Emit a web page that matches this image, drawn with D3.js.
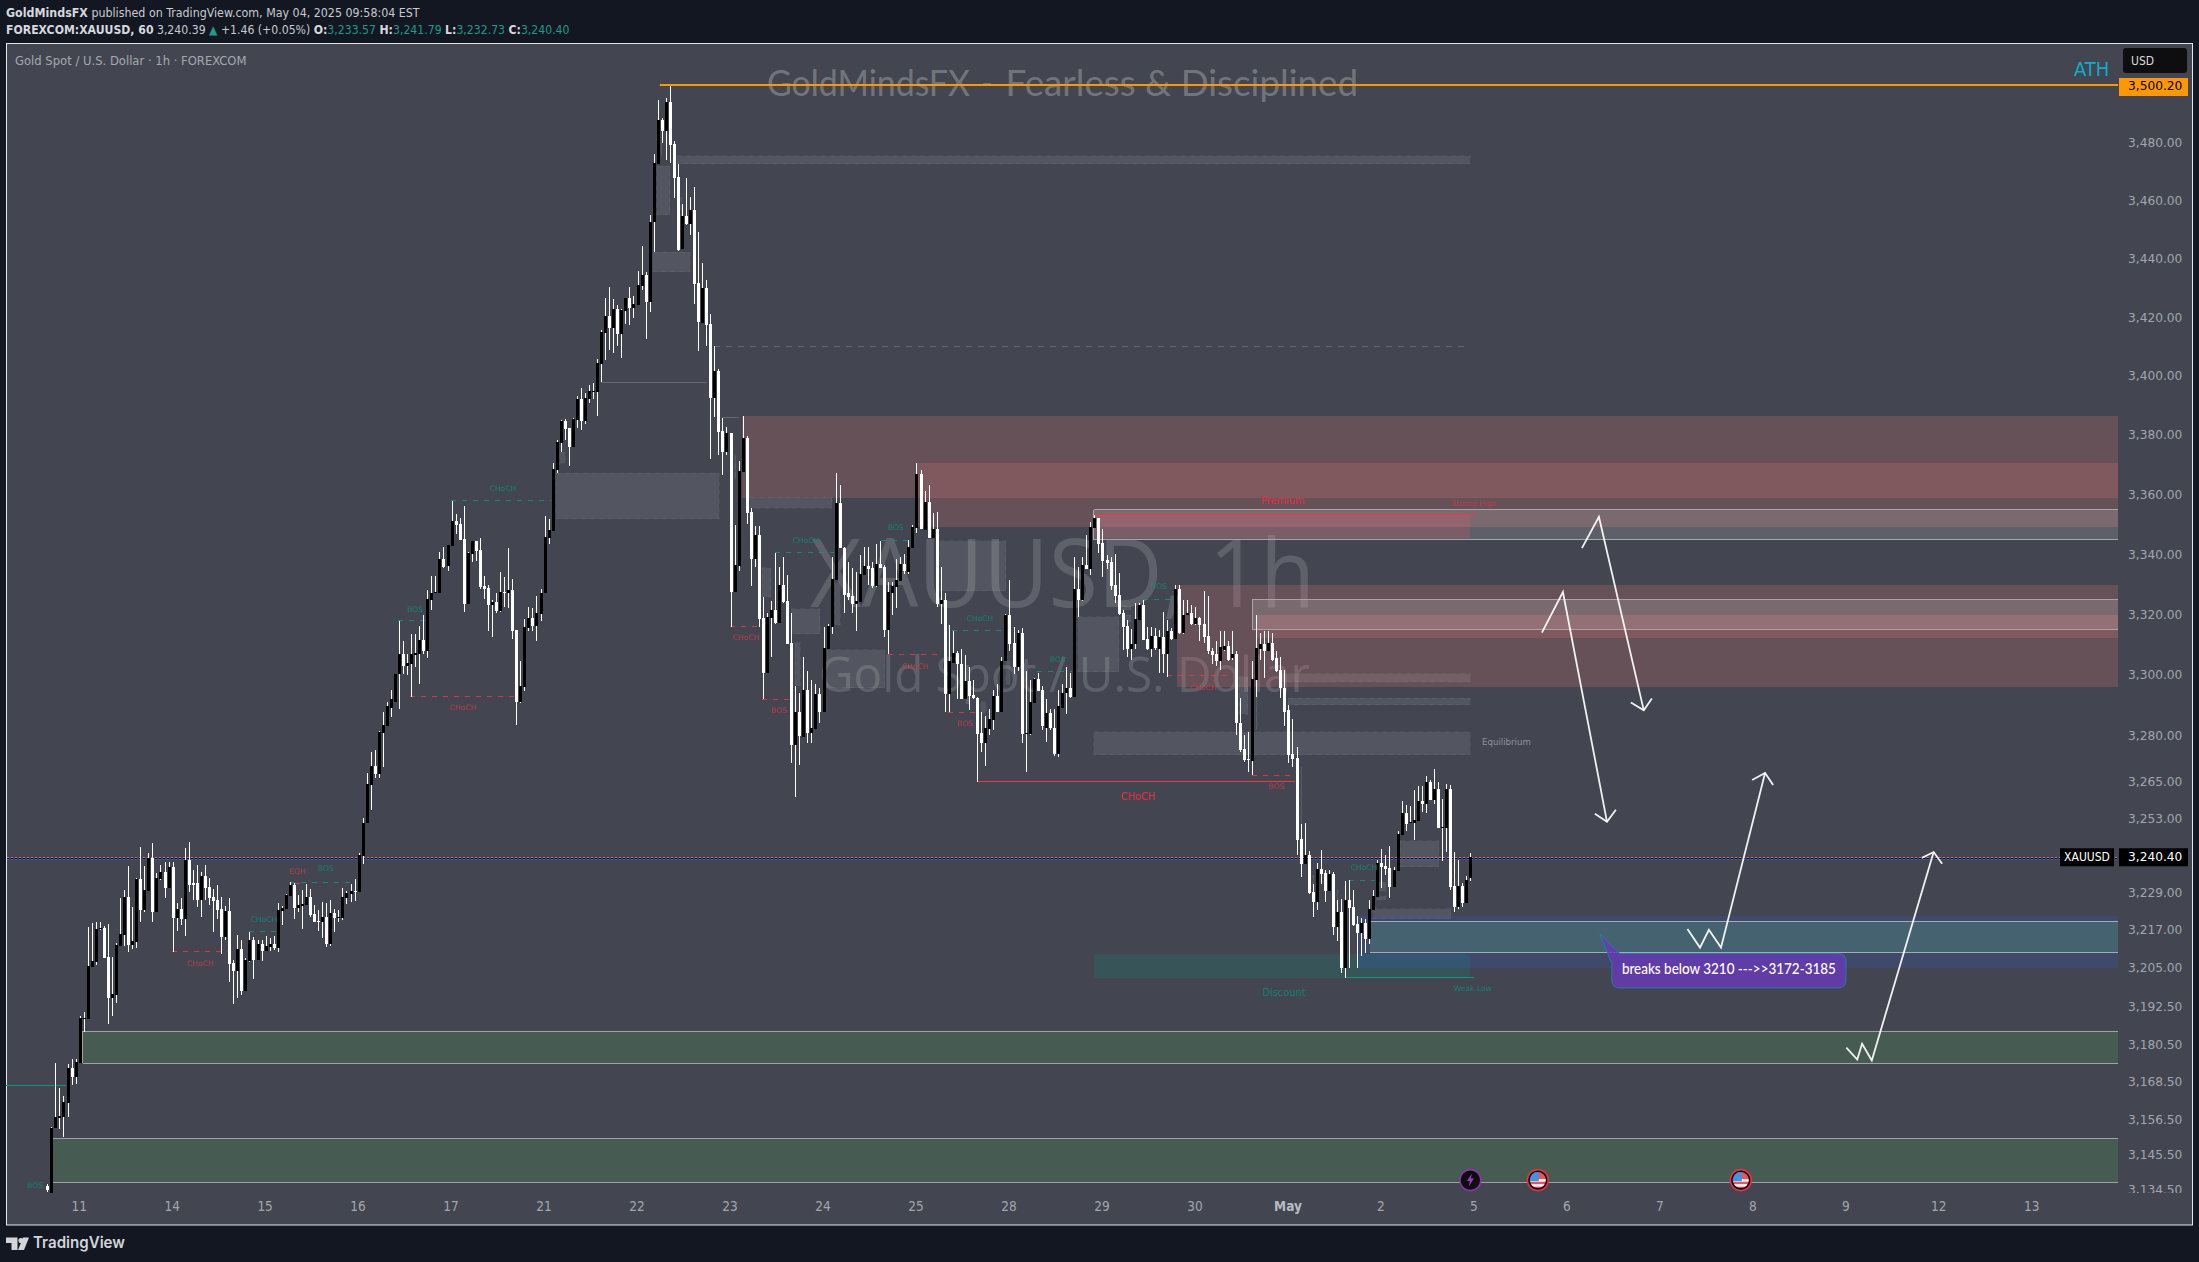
<!DOCTYPE html>
<html><head><meta charset="utf-8"><title>XAUUSD 1h</title>
<script src="https://cdn.jsdelivr.net/npm/d3@7"></script>
<style>html,body{margin:0;padding:0;background:#121722;overflow:hidden}svg{display:block}</style>
</head><body><svg id="c" width="2199" height="1262"></svg>
<script>
// [open, high, low, close] per hourly bar
const candles=[
[3135.7,3136.3,3133.8,3134.5],[3133.6,3154.3,3133.6,3154],[3154,3174.6,3154,3157.5],[3157.2,3166.6,3153.7,3157.8],[3157.5,3164.2,3151,3162.3],
[3162,3174.3,3157.5,3172.8],[3172.8,3175.9,3167.6,3170],[3170,3175.9,3168,3174.9],[3174.6,3189.6,3174.6,3188.7],[3188.4,3190.6,3184.5,3188.7],
[3188.4,3218,3188.4,3205.5],[3205.2,3219.2,3205.2,3207],[3206.7,3219.6,3205.8,3217.3],[3217.3,3219.6,3217,3217.6],[3217.6,3218.3,3208,3208],
[3208.3,3218.9,3186.8,3195.2],[3195.2,3208.3,3189.6,3196.5],[3196.2,3212.8,3193.6,3212.2],[3211.9,3227.2,3211.9,3215.7],[3215.4,3229.8,3211.9,3227.5],
[3227.5,3237.6,3209.9,3212.2],[3212.2,3224.4,3210.9,3213.5],[3213.1,3233.7,3211.3,3233.3],[3233.3,3243.7,3219.6,3223.5],[3223.5,3237.6,3222.8,3229.8],
[3229.5,3241.8,3229.5,3240.2],[3240.2,3245,3219.6,3222.8],[3222.8,3235.3,3222.8,3233.7],[3233.3,3237.9,3233,3235.6],[3235.6,3238.9,3227.2,3230.5],
[3230.5,3238.9,3230.5,3237.3],[3237.3,3238.9,3209.9,3220.9],[3220.9,3225.6,3216.7,3223.8],[3223.8,3227.2,3218.6,3220.6],[3220.6,3243.4,3215,3239.5],
[3239.5,3245.4,3229.2,3231.4],[3232,3236.3,3226.7,3231.4],[3232,3237.9,3224.4,3226.7],[3226.7,3235.6,3221.2,3234.3],[3234.3,3237.9,3226.7,3230.5],
[3230.8,3233.7,3225,3227.2],[3227.5,3230.2,3216.4,3226.3],[3226.7,3231.4,3220.6,3223.5],[3223.8,3227.5,3209.2,3214.7],[3214.7,3224.7,3213.8,3223.1],
[3223.1,3227.2,3200.3,3206.1],[3206.4,3207.4,3193.3,3203.8],[3203.8,3215.4,3195.2,3210.9],[3210.9,3213.8,3196.2,3197.4],[3197.4,3208,3197.4,3207.4],
[3207,3216.4,3206.7,3213.8],[3213.8,3214.7,3201.3,3207.4],[3207.4,3213.8,3207.4,3212.5],[3212.5,3213.8,3207,3210.3],[3210.3,3215,3210.3,3211.9],
[3211.6,3214.4,3210.3,3212.5],[3212.5,3215,3210.6,3211.3],[3211.3,3225.6,3209.9,3223.5],[3223.1,3224.7,3218.6,3224.1],[3223.8,3228.5,3223.8,3228.2],
[3227.9,3232.4,3227.9,3231.4],[3231.4,3232,3220.6,3224.1],[3224.1,3228.2,3222.8,3225],[3224.7,3229.8,3217.3,3225.3],[3225,3231.7,3225,3227.5],
[3227.5,3230.2,3221.2,3221.8],[3222.1,3225,3219.6,3219.6],[3219.9,3223.5,3216.7,3219.6],[3219.6,3225.9,3214.4,3221.2],[3221.2,3225.6,3211.6,3212.5],
[3212.5,3226.7,3211.9,3222.5],[3222.5,3223.8,3216.4,3220.9],[3220.9,3223.5,3219.6,3221.2],[3220.9,3230.5,3220.2,3227.5],[3227.2,3229.5,3225.3,3228.9],
[3228.5,3231.7,3226,3229.5],[3229.5,3233.3,3226.3,3229.2],[3229.2,3241.8,3229.2,3241.1],[3240.8,3253.2,3238.2,3251.6],[3251.6,3267.9,3251.6,3264.3],
[3264,3274.8,3255.8,3270.2],[3270.2,3275.4,3266.3,3267.3],[3267.3,3281.6,3266.3,3281.3],[3281,3287.6,3269.9,3283.6],[3283.3,3291.2,3283.3,3289.6],
[3289.2,3295.1,3286,3291.9],[3291.2,3300.4,3291.2,3300.4],[3300.1,3317.9,3288.6,3307],[3307,3311,3300.1,3303],[3303,3307,3299.8,3304],
[3303.7,3313.6,3292.8,3306.7],[3306.4,3313.3,3302.4,3307.3],[3307,3316.2,3296.8,3311.6],[3311.6,3319.6,3306.7,3308],[3308,3328.2,3305.4,3325.2],
[3324.8,3332.8,3321.5,3327.2],[3327.2,3332.8,3327.2,3327.5],[3327,3340.7,3327,3338.3],[3338.3,3342.4,3335.4,3335.7],[3336,3343,3334.4,3343],
[3342.7,3357.8,3342.7,3351],[3351,3353.4,3346.8,3349.7],[3350,3352,3344.8,3344.8],[3345.1,3356.1,3320.9,3323.5],[3323.5,3340.7,3323.5,3340.4],
[3340.1,3344.4,3337.3,3344.4],[3344.4,3344.4,3337.6,3341],[3341.3,3345.4,3328.5,3329],[3329.4,3332.8,3325.2,3328.5],[3328.8,3329.8,3314.3,3323.2],
[3323.2,3324.8,3312.6,3324.2],[3324.2,3326.9,3320.5,3321.2],[3321.2,3334.1,3320.9,3327.5],[3327.5,3332.5,3322.5,3327.2],[3327.2,3342.1,3322.2,3328.2],
[3328.2,3331.8,3311.9,3314.6],[3314.9,3314.9,3283.6,3290.9],[3290.9,3304.7,3290.6,3296.4],[3296.1,3318.5,3294.8,3315.9],[3315.6,3322.5,3314.3,3318.9],
[3318.9,3322.2,3314.3,3316.2],[3316.2,3325.9,3311,3320.5],[3320.2,3328.5,3317.9,3327.2],[3327,3352.8,3327,3345.7],[3345.4,3351.7,3343.3,3348],
[3347.7,3370.5,3347.7,3368.5],[3368.2,3378.2,3367.2,3377.6],[3377.2,3385,3374.2,3384.7],[3384.7,3385.3,3378.2,3382],[3382.3,3382.3,3369.5,3375.9],
[3375.9,3385.7,3375.9,3385.3],[3385,3393.1,3382.3,3392.1],[3392.1,3395.8,3381.6,3384.7],[3384.7,3394.1,3383.7,3392.4],[3392.1,3396.9,3390.7,3394.8],
[3394.4,3397.5,3392.1,3394.8],[3394.4,3405.7,3386.4,3404.4],[3404,3415.6,3397.9,3414.9],[3414.6,3426.5,3405.4,3420.4],[3420.4,3430.3,3408.7,3416.2],
[3416.2,3426.2,3407.7,3422.7],[3422.7,3424.1,3410,3414.2],[3414.2,3422.7,3406,3422.4],[3422,3426.5,3417.6,3426.5],[3426.5,3430.3,3417.2,3423],
[3423,3427.2,3419.7,3424.5],[3424.1,3435.8,3424.1,3431],[3430.7,3444.4,3429.3,3434.4],[3434.4,3435.5,3412.5,3425.1],[3425.1,3454.9,3421.7,3452.8],
[3452.5,3476.2,3442.3,3473],[3472.7,3495,3472.7,3488],[3488,3488.7,3480,3484.2],[3484.2,3495.7,3474.1,3494.3],[3494.3,3500.2,3473,3479.3],
[3479.7,3480.7,3461,3468],[3468.3,3472.7,3442.8,3443.1],[3443.4,3458.8,3443.4,3454.6],[3454.6,3468,3451.5,3451.8],[3451.8,3461.3,3448,3456.7],
[3456.7,3464.6,3424.5,3431.4],[3431.7,3449.3,3408.4,3418.3],[3418,3438.7,3418,3430],[3430,3432.8,3410,3417.2],[3417.6,3421,3371.8,3392.4],
[3392.4,3410,3386,3401.6],[3401.6,3402.3,3373.2,3380.9],[3381.2,3385.7,3366.5,3374.2],[3374.2,3382.6,3373.2,3380.6],[3380.6,3380.6,3315.9,3327.4],
[3327.4,3349.7,3327.4,3336.4],[3336,3371.2,3334.4,3367.8],[3367.5,3386.4,3367.5,3378.9],[3378.9,3379.5,3350,3353.7],[3354,3355.4,3329.4,3338.3],
[3338.3,3349.4,3335.7,3346.4],[3346.4,3349.4,3315.9,3318.5],[3318.9,3325.8,3291.9,3300.7],[3300.7,3320.5,3300.7,3319.2],[3318.9,3324.5,3305.7,3321.5],
[3321.5,3340.4,3316.9,3317.2],[3317.2,3335.7,3317.2,3329.8],[3329.8,3339,3323.8,3324.2],[3324.5,3333.1,3310.3,3310.3],[3310.6,3320.5,3271.2,3277],
[3277,3296.4,3260,3287.6],[3287.6,3294.1,3270.5,3280],[3279.7,3305.7,3279.7,3295.1],[3295.1,3301.4,3277.7,3281],[3281,3298.4,3277.7,3282.6],
[3282.3,3297.1,3282.3,3293.8],[3293.8,3295.8,3284,3287.9],[3287.9,3315.9,3287.9,3309],[3308.6,3316.9,3308.6,3316.2],[3315.9,3339,3313.6,3331.8],
[3331.5,3367.1,3331.5,3357.1],[3357.1,3363.1,3342.1,3342.1],[3342.1,3342.4,3320.5,3326.5],[3326.9,3337.3,3324.8,3325.8],[3326.2,3335.4,3320.5,3323.5],
[3323.5,3334.1,3314.6,3324.5],[3324.2,3339.7,3324.2,3333.4],[3333.1,3342.4,3333.1,3336],[3336,3342.4,3329.8,3335],[3335.4,3337.3,3328.8,3329.4],
[3329.4,3343.3,3329,3336.7],[3336.7,3344.4,3335.4,3335.4],[3335.7,3336.4,3312.6,3314.9],[3314.9,3330.8,3306.7,3327.4],[3327.2,3330.8,3319.6,3329.4],
[3329,3338.3,3322.2,3331.5],[3331.1,3339,3331.1,3336.7],[3336.7,3340,3333.4,3334.4],[3334.1,3344.8,3333.4,3342.4],[3342.1,3349.7,3342.1,3349.1],
[3348.8,3370.5,3347.1,3366.8],[3366.8,3368.2,3348.4,3348.4],[3348,3361,3348,3357.5],[3357.5,3363.1,3345.4,3345.4],[3345.4,3353.7,3345.4,3348.4],
[3348.4,3354,3322.5,3323.5],[3323.5,3335.7,3316.9,3324.8],[3324.8,3327.2,3287.6,3293.8],[3293.8,3316.5,3287.6,3304.4],[3304,3314.3,3304,3307.3],
[3307.3,3308,3291.9,3303.4],[3303.7,3308.6,3291.9,3291.9],[3291.9,3306.4,3291.9,3298.1],[3298.1,3302.7,3288.3,3293.1],[3293.5,3298.4,3291.9,3292.2],
[3292.5,3292.8,3265,3280.7],[3281,3287.6,3274.8,3277.7],[3277.7,3286.6,3270.2,3282.6],[3282.3,3288.6,3280.3,3285.3],[3285,3295.1,3282,3293.1],
[3293.1,3296.8,3287.9,3287.9],[3287.9,3306,3287.9,3304.7],[3304.4,3320.2,3304.4,3319.6],[3319.6,3331.5,3307.7,3310.3],[3310.6,3315.9,3300.1,3302.4],
[3302.4,3314.9,3301.4,3313.9],[3313.9,3315.6,3277.7,3280.7],[3280.7,3301.4,3268.2,3281],[3280.7,3298.4,3280.3,3290.9],[3290.6,3299,3290.6,3298.7],
[3298.7,3300.7,3294.5,3294.8],[3295.1,3296.4,3282,3283],[3282.6,3291.9,3278,3287.3],[3287.3,3288.6,3282,3282.6],[3282.6,3288.6,3273.5,3274.1],
[3274.1,3295.1,3273.1,3289.6],[3289.2,3297.1,3289.2,3294.1],[3294.1,3302.4,3287,3295.8],[3295.8,3300.7,3292.5,3292.8],[3292.8,3339,3292.8,3328.5],
[3328.5,3335.7,3319.2,3324.8],[3324.8,3339,3324.5,3336.4],[3336.4,3346.4,3335,3335.1],[3335.1,3350.7,3333.1,3349.1],[3348.8,3353.1,3348.8,3352],
[3352,3352,3340.4,3343.3],[3343.7,3348.4,3332.5,3337.6],[3338,3339.7,3335,3337],[3337.3,3339,3328.2,3329.4],[3329.8,3340,3323.8,3326.2],
[3326.5,3333.8,3319.9,3320.2],[3320.5,3321.5,3308.3,3315.9],[3316.2,3318.2,3306,3308.6],[3308.6,3315.2,3305,3310.3],[3310,3323.8,3308.6,3318.5],
[3318.2,3323.8,3318.2,3323.2],[3323.2,3324.8,3311.6,3311.6],[3311.9,3315.9,3308.3,3308.6],[3308.6,3315.9,3306,3312.9],[3312.9,3315.6,3308.3,3309],
[3308.6,3314.9,3300.7,3312.6],[3312.6,3320.9,3300.7,3306.7],[3306.7,3318.2,3299.4,3314.6],[3314.6,3315.6,3311.6,3311.9],[3311.9,3329.8,3311.9,3328.5],
[3328.5,3329.8,3313.6,3313.9],[3313.9,3324.8,3313.3,3319.9],[3319.6,3324.8,3319.6,3320.5],[3320.5,3323.2,3316.5,3316.9],[3316.9,3322.5,3316.5,3318.9],
[3318.9,3319.2,3311,3316.5],[3316.9,3327.8,3310.6,3312.6],[3312.9,3326.2,3306.7,3307.7],[3308,3309,3303.4,3306.4],[3306.7,3311.3,3303,3304.4],
[3304.4,3314.3,3301.7,3309.3],[3308.3,3314.3,3307.7,3309.6],[3309.6,3311.3,3304.7,3305],[3305.4,3314.3,3305,3307],[3307,3307.7,3280.3,3284],
[3284.3,3292.5,3274.8,3275.4],[3275.7,3280.3,3271.4,3272],[3272.4,3281.3,3268.2,3272],[3271.8,3304.7,3267,3298.7],[3298.4,3319.9,3292.8,3309],
[3308.6,3313.9,3305,3310],[3310,3314.6,3299.1,3307.7],[3307.7,3314.3,3307.7,3310.6],[3310.6,3313.9,3304.7,3305],[3305.4,3307.7,3301,3301.4],
[3301.7,3305.7,3292.5,3295.5],[3295.8,3301.7,3283,3287.9],[3288.3,3289.9,3271.2,3273.8],[3274.1,3285.3,3269.9,3272.4],[3272.7,3276.4,3241.1,3246],
[3246.4,3251.3,3234,3238.2],[3238.2,3251.6,3238.2,3241.1],[3241.1,3242.4,3228.5,3228.9],[3229.2,3231.7,3221.2,3226],[3226,3238.6,3223.5,3236.6],
[3236.6,3242.8,3231.7,3235],[3235.3,3236.3,3226,3229.5],[3229.5,3236.3,3229.5,3235],[3235,3235.6,3215.4,3218],[3218,3226.7,3213.5,3222.8],
[3222.8,3227,3203.2,3204.8],[3204.8,3232.7,3201.6,3226.7],[3226.7,3233,3204.8,3224.1],[3224.4,3229.8,3218.3,3218.6],[3218.9,3221.5,3204.8,3216.1],
[3216.1,3220.9,3208.6,3219.3],[3219.3,3220.6,3209.6,3214.1],[3214.1,3226.7,3212.5,3223.8],[3223.5,3229.8,3223.5,3227.9],[3227.5,3239.5,3227.5,3238.6],
[3238.6,3243.1,3230.5,3237.3],[3237.6,3241.1,3234.6,3236.6],[3236.9,3244,3227.2,3230.8],[3230.8,3237.3,3230.8,3236.3],[3236,3249,3236,3248],
[3247.7,3258.8,3247.7,3254.8],[3254.8,3257.5,3249,3251.3],[3251.6,3256.9,3251.6,3251.9],[3251.6,3262.4,3246,3252.6],[3252.3,3263.7,3252.3,3258.8],
[3258.8,3263.7,3255.1,3257.8],[3257.8,3266.9,3254.8,3265],[3265,3265.6,3259,3259],[3259,3269.2,3257.8,3262.7],[3262.7,3264.7,3250,3250],
[3250,3259.3,3239.1,3250.3],[3250,3264.3,3242.1,3262.7],[3262.7,3264,3229.8,3230.8],[3231.1,3242.1,3222.8,3224.4],[3224.4,3239.5,3223.8,3231.1],
[3231.1,3232,3224.4,3225.6],[3225.6,3234.3,3225.6,3233],[3233.57,3241.79,3232.73,3240.4]];

const priceTicks=[3480,3460,3440,3420,3400,3380,3360,3340,3320,3300,3280,3265,3253,3229,3217,3205,3192.5,3180.5,3168.5,3156.5,3145.5,3134.5];
const dayLabels=["11","14","15","16","17","21","22","23","24","25","28","29","30","May","2","5","6","7","8","9","12","13"];
const dayBars=[8,31,54,77,100,123,146,169,192,215,238,261,284,307,330,353,376,399,422,445,468,491];
const athPrice=3500.2, lastPrice=3240.4, lastBar=512.2;

// zones: [fromBar, toBar, topPrice, bottomPrice, kind]
const zones=[
[171.8,512.2,3386.4,3358.8,"supply"],[215,512.2,3370.5,3349.1,"supply"],[279.4,512.2,3329.8,3296.1,"supply"],[299.2,512.2,3319.9,3312.3,"supply"],
[258.9,352,3353.2,3345.4,"premium"],
[155.7,352,3475.5,3472.7,"gap"],[150.8,154,3472,3455.2,"gap"],[149.8,159,3442.3,3435.5,"gap"],[126.8,128.1,3374.2,3370.5,"gap"],[125.8,166.2,3367.1,3351.8,"gap"],
[173.8,194,3358.8,3355.4,"gap"],[176.8,179,3335.4,3325.8,"gap"],[184,191.1,3321.8,3313.6,"gap"],[185,186.2,3310.6,3296.4,"gap"],[192.9,207.2,3308.3,3295.8,"gap"],
[194.8,196.1,3330.5,3316.5,"gap"],[220.8,237.1,3344.4,3327.8,"gap"],[230.9,232.2,3291.1,3287.3,"gap"],[237.1,238.1,3304.7,3296.8,"gap"],[254.9,265,3319.2,3301,"gap"],
[265.8,268,3322.8,3321.5,"gap"],[266.8,268,3319.6,3317.6,"gap"],[294.8,297,3299.4,3287,"gap"],[334.6,344.2,3245.7,3237.3,"gap"],[329.4,331.1,3232.4,3229.6,"gap"],
[328.6,331.1,3228,3226.7,"gap"],[327.9,347.2,3223.8,3220.6,"gap"],
[304.9,352,3300.4,3297.7,"gap"],[306.9,352,3292.2,3290.2,"gap"],[258.9,352,3281.3,3273.8,"gap"],
[299,299.3,3296.1,3282,"gap"],[310,310.3,3269.9,3251.3,"gap"],[242,242.3,3301,3290.9,"gap"],[313,313.3,3234.6,3228.9,"gap"],[319,319.3,3229.8,3223.5,"gap"],[348,348.3,3242.1,3232,"gap"],
[156.7,157,3461,3454.6,"gap"],[151.7,152,3480,3475.8,"gap"],[222.8,223.1,3316.5,3304.4,"gap"],[170,170.3,3373,3365,"gap"],
[258.9,352,3209.4,3201.6,"discount"],[324,512.2,3221.5,3204.8,"demand"]];
// outlined boxes: [fromBar, toBar, topPrice, bottomPrice, kind]
const boxes=[[258.9,512.2,3354.8,3344.8,"pale"],[298,512.2,3324.8,3314.9,"pale"],[327.3,512.2,3219.6,3209.8,"teal"],[8.8,512.2,3184.6,3174.4,"green"],[1.4,512.2,3150.6,3137,"green"]];

// market structure lines: [fromBar, toBar, price, kind]
const structureLines=[
[30.8,44.7,3209.9,"bear"],[49.9,56.6,3216.4,"bull"],[60,76.6,3232.4,"bull"],[61.3,63.2,3232,"bear"],[86.7,93.4,3317.9,"bull"],[99.9,124.6,3357.8,"bull"],[89.7,115.4,3292.8,"bear"],
[168.9,175.5,3315.9,"bear"],[176.8,183.5,3291.9,"bear"],[180,194.6,3340.4,"bull"],[206.2,212.9,3344.4,"bull"],[207.9,220,3306.7,"bear"],[222.8,230,3287.7,"bear"],[223.8,236.4,3314.6,"bull"],
[244.8,253.5,3301,"bull"],[271,277.7,3324.8,"bull"],[277,293.3,3299.7,"bear"],[298,308.6,3267,"bear"],[322,328.4,3233,"bull"]];
const solidLines=[[230,308.6,3265,"bear"],[258.9,353.5,3353.2,"bear"],[321,352.9,3201.6,"bull"],[-10.2,4.6,3167.4,"bull"],[136.9,163.2,3397.9,"grey"],[166.9,171.1,3386,"grey"]];
const greyDashed=[[164.9,351.4,3410]];
// labels: [text, bar, price, kind, size class]
const structureLabels=[
["BOS",-3,3135.7,"bull","s"],["CHoCH",37.8,3206,"bear","s"],["CHoCH",53.6,3220.2,"bull","s"],["BOS",68.9,3236.7,"bull","s"],["EQH",61.8,3235.7,"bear","s"],["BOS",91,3321.5,"bull","s"],
["CHoCH",112.7,3361.8,"bull","s"],["CHoCH",102.8,3289.2,"bear","s"],["CHoCH",172.8,3312.3,"bear","s"],["BOS",181,3288,"bear","s"],["CHoCH",187.7,3344.4,"bull","s"],["BOS",209.9,3348.8,"bull","s"],
["CHoCH",214.6,3302.7,"bear","s"],["BOS",227,3283.7,"bear","s"],["CHoCH",230.7,3318.5,"bull","s"],["BOS",250,3305,"bull","s"],["CHoCH",269.8,3260,"brightbear","m"],["BOS",275,3329,"bull","s"],
["CHoCH",285.9,3295.8,"bear","s"],["BOS",304,3263.4,"bear","s"],["CHoCH",325.7,3236.9,"bull","s"],
["Premium",305.6,3357.8,"brightbear","m"],["Strong High",352.9,3356.8,"bear","s"],["Discount",305.9,3196.7,"bull","m"],["Weak Low",352.6,3198,"bull","s"]];
// hand-drawn arrows: list of [bar, price]
const arrows=[
[[379.6,3342],[383.8,3352.5],[394.9,3288.3]],[[391.7,3290.9],[394.9,3288.3],[396.9,3292.2]],
[[369.7,3313.9],[374.9,3327.4],[385.8,3251.9]],[[382.8,3254.5],[385.8,3251.9],[388,3255.8]],
[[405.7,3217.3],[408.8,3211.3],[411,3217],[414,3211.3],[424.9,3267.8]],[[421.7,3265.5],[424.9,3267.8],[426.9,3263.9]],
[[445,3179.4],[447.7,3175.6],[448.9,3180.6],[451.3,3175.3],[466.6,3242.1]],[[463.7,3240.2],[466.6,3242.1],[468.7,3238.3]]];
const eventBars=[["bolt",352],["flag",368.7],["flag",418.9]];
const eventPrice=3137.6;

const svg=d3.select("#c");
const x=d3.scaleLinear().domain([0,lastBar]).range([47.3,2118]);
const y=d3.scaleLog().domain([athPrice,3134.5]).range([85,1190]);
const uiFont="'DejaVu Sans Condensed','DejaVu Sans',sans-serif";

svg.append("rect").attr("width",2199).attr("height",1262).attr("fill","#121722");
svg.append("rect").attr("x",6.5).attr("y",43.5).attr("width",2186).attr("height",1181.5).attr("fill","#434651").attr("stroke","#e6e7ea").attr("stroke-width",1);

const defs=svg.append("defs");
defs.append("clipPath").attr("id","axisClip").append("rect").attr("x",2119).attr("y",44).attr("width",72).attr("height",1149);
defs.append("clipPath").attr("id","flagClip").append("circle").attr("r",8);

// watermarks
const wm=svg.append("g").attr("font-family","'Open Sans',sans-serif").attr("text-anchor","start");
wm.append("text").text("XAUUSD, 1h").attr("x",810).attr("y",607).attr("font-size",96).attr("textLength",505).attr("lengthAdjust","spacingAndGlyphs").attr("fill","rgba(255,255,255,0.15)");
wm.append("text").text("Gold Spot / U.S. Dollar").attr("x",819).attr("y",692).attr("font-size",50).attr("textLength",491).attr("lengthAdjust","spacingAndGlyphs").attr("fill","rgba(255,255,255,0.15)");
[["GoldMindsFX",767,203],["-",981,12],["Fearless & Disciplined",1005.5,352.5]].forEach(([t,px,w])=>
 svg.append("text").text(t).attr("x",px).attr("y",96).attr("font-family","Lato,sans-serif").attr("font-size",36).attr("textLength",w).attr("lengthAdjust","spacingAndGlyphs").attr("fill","rgba(255,255,255,0.27)"));

// zones
const zoneFill={supply:"rgba(200,110,110,0.27)",premium:"rgba(242,54,69,0.2)",gap:"rgba(255,255,255,0.085)",discount:"rgba(8,153,129,0.18)",demand:"rgba(41,98,255,0.15)"};
const zoneStroke={gap:"rgba(255,255,255,0.05)"};
svg.append("g").attr("shape-rendering","crispEdges").selectAll("rect").data(zones).join("rect")
 .attr("x",d=>x(d[0])).attr("width",d=>x(d[1])-x(d[0])).attr("y",d=>y(d[2])).attr("height",d=>y(d[3])-y(d[2]))
 .attr("fill",d=>zoneFill[d[4]]).attr("stroke",d=>zoneStroke[d[4]]||"none").attr("stroke-dasharray","5 4");

const boxFill={pale:"rgba(255,255,255,0.14)",teal:"rgba(96,194,139,0.2)",green:"#465b52"};
const boxLine={pale:"#a8a4a9",teal:"#a4acb4",green:"#a0a3a6"};
const bx=svg.append("g").attr("shape-rendering","crispEdges");
bx.selectAll("rect").data(boxes).join("rect")
 .attr("x",d=>x(d[0])).attr("width",d=>x(d[1])-x(d[0])).attr("y",d=>y(d[2])).attr("height",d=>y(d[3])-y(d[2])).attr("fill",d=>boxFill[d[4]]);
boxes.forEach(d=>{
 [d[2],d[3]].forEach(p=>bx.append("line").attr("x1",x(d[0])).attr("x2",x(d[1])).attr("y1",y(p)).attr("y2",y(p)).attr("stroke",boxLine[d[4]]).attr("stroke-width",1));
 if(d[4]!=="teal"&&d[0]>2) bx.append("line").attr("x1",x(d[0])).attr("x2",x(d[0])).attr("y1",y(d[2])).attr("y2",y(d[3])).attr("stroke",boxLine[d[4]]);
});

// structure
const lineColor={bear:"#f23645",bull:"#089981",grey:"#646772"};
svg.append("g").attr("opacity",0.82).selectAll("line").data(structureLines).join("line")
 .attr("x1",d=>x(d[0])).attr("x2",d=>x(d[1])).attr("y1",d=>y(d[2])).attr("y2",d=>y(d[2]))
 .attr("stroke",d=>lineColor[d[3]]).attr("stroke-width",1).attr("stroke-dasharray","5 6").attr("shape-rendering","crispEdges");
svg.append("g").selectAll("line").data(solidLines).join("line")
 .attr("x1",d=>x(d[0])).attr("x2",d=>x(d[1])).attr("y1",d=>y(d[2])).attr("y2",d=>y(d[2]))
 .attr("stroke",d=>lineColor[d[3]]).attr("stroke-width",1).attr("shape-rendering","crispEdges");
svg.append("g").selectAll("line").data(greyDashed).join("line")
 .attr("x1",d=>x(d[0])).attr("x2",d=>x(d[1])).attr("y1",d=>y(d[2])).attr("y2",d=>y(d[2]))
 .attr("stroke","#646772").attr("stroke-dasharray","6 6").attr("shape-rendering","crispEdges");

// last price dotted lines
const lp=y(lastPrice);
[[0,"#e0707a"],[1,"#000"],[2,"#2962ff"]].forEach(([o,c])=>
 svg.append("line").attr("x1",7).attr("x2",x(lastBar)).attr("y1",lp+o+0.5).attr("y2",lp+o+0.5).attr("stroke",c).attr("stroke-dasharray","2 2").attr("shape-rendering","crispEdges"));

// candles
const barG=svg.append("g").attr("shape-rendering","crispEdges").selectAll("g").data(candles).join("g");
barG.append("line").attr("x1",(d,i)=>Math.round(x(i))+0.5).attr("x2",(d,i)=>Math.round(x(i))+0.5)
 .attr("y1",d=>y(d[1])).attr("y2",d=>y(d[2])).attr("stroke","#fff");
barG.append("rect").attr("x",(d,i)=>Math.round(x(i))-1).attr("width",3)
 .attr("y",d=>y(Math.max(d[0],d[3]))).attr("height",d=>Math.max(1,Math.abs(y(d[0])-y(d[3]))))
 .attr("fill",d=>d[3]>=d[0]?"#000":"#fff");

// ATH line
svg.append("line").attr("x1",x(151.5)).attr("x2",x(lastBar)).attr("y1",y(athPrice)).attr("y2",y(athPrice)).attr("stroke","#ff9800").attr("stroke-width",2);

// labels
const labelColor={bear:"#b93a48",bull:"#127f73",brightbear:"#e0303f"};
svg.append("g").attr("font-family","'DejaVu Sans',sans-serif").attr("text-anchor","middle").attr("dominant-baseline","middle")
 .selectAll("text").data(structureLabels).join("text").text(d=>d[0])
 .attr("x",d=>x(d[1])).attr("y",d=>y(d[2])).attr("fill",d=>labelColor[d[3]]).attr("font-size",d=>d[4]==="s"?7.6:9.8);
svg.append("text").text("Equilibrium").attr("x",x(354.9)).attr("y",y(3277.8)).attr("dominant-baseline","middle").attr("font-family","'DejaVu Sans',sans-serif").attr("font-size",8.6).attr("fill","#8f919a");

// arrows
svg.append("g").selectAll("path").data(arrows).join("path")
 .attr("d",d3.line().x(d=>x(d[0])).y(d=>y(d[1]))).attr("fill","none").attr("stroke","#fff").attr("stroke-width",1.8).attr("stroke-opacity",0.92);

// callout
const cL=x(387),cR=x(444.9),cT=y(3209.4),cB=y(3198.4),r=8,tipX=x(384),tipY=y(3215.7);
svg.append("path").attr("d",`M${cL+8},${cT} L${tipX},${tipY} L${cL},${cT+10} L${cL},${cB-r} Q${cL},${cB} ${cL+r},${cB} L${cR-r},${cB} Q${cR},${cB} ${cR},${cB-r} L${cR},${cT+r} Q${cR},${cT} ${cR-r},${cT} Z`)
 .attr("fill","rgba(103,58,183,0.82)").attr("stroke","#2b79a8").attr("stroke-width",1);
svg.append("text").text("breaks below 3210 --->>3172-3185").attr("x",(cL+cR)/2).attr("y",(cT+cB)/2).attr("text-anchor","middle").attr("dominant-baseline","middle")
 .attr("font-family","Lato,sans-serif").attr("font-weight",500).attr("font-size",14.5).attr("textLength",214).attr("lengthAdjust","spacingAndGlyphs").attr("fill","#fff");

// events
const ev=svg.append("g").selectAll("g").data(eventBars).join("g").attr("transform",d=>`translate(${x(d[1])},${y(eventPrice)})`);
ev.append("circle").attr("r",10.5).attr("fill","#0e0e10").attr("stroke",d=>d[0]==="bolt"?"#8e35a8":"#e23345").attr("stroke-width",1.6);
ev.filter(d=>d[0]==="bolt").append("path").attr("d","M1.5,-6.5 L-3.5,1 L-0.5,1 L-1.5,6.5 L3.5,-1.5 L0.5,-1.5 Z").attr("fill","#9c3cba");
const fl=ev.filter(d=>d[0]==="flag").append("g").attr("clip-path","url(#flagClip)");
fl.append("rect").attr("x",-9).attr("y",-9).attr("width",18).attr("height",18).attr("fill","#f0525e");
fl.append("rect").attr("x",-9).attr("y",-1).attr("width",18).attr("height",2.6).attr("fill","#f4f4f4");
fl.append("rect").attr("x",-9).attr("y",4).attr("width",18).attr("height",2.6).attr("fill","#f4f4f4");
fl.append("rect").attr("x",-9).attr("y",-9).attr("width",10).attr("height",10).attr("fill","#3f94e6");

// axes
const yAxis=svg.append("g").attr("clip-path","url(#axisClip)").append("g").attr("transform","translate(2118,0)")
 .call(d3.axisRight(y).tickValues(priceTicks).tickFormat(d3.format(",.2f")).tickSize(0).tickPadding(10));
yAxis.select(".domain").remove();
yAxis.selectAll("text").attr("font-family","'DejaVu Sans',sans-serif").attr("font-size",12.2).attr("fill","#a2a5ae");
const xAxis=svg.append("g").attr("transform","translate(-1,1199)")
 .call(d3.axisBottom(x).tickValues(dayBars).tickFormat(b=>dayLabels[dayBars.indexOf(b)]).tickSize(0).tickPadding(2));
xAxis.select(".domain").remove();
xAxis.selectAll("text").attr("font-family",uiFont).attr("font-size",13.5).attr("fill","#a2a5ae");
xAxis.selectAll("text").filter(t=>t===307).attr("font-weight","bold").attr("fill","#b8bbc3");

// price scale badges
svg.append("rect").attr("x",2123).attr("y",48).attr("width",64).attr("height",25).attr("rx",3).attr("fill","#0e0e0f");
svg.append("text").text("USD").attr("x",2131).attr("y",61).attr("dominant-baseline","middle").attr("font-family",uiFont).attr("font-size",12).attr("fill","#d8d9dc");
svg.append("rect").attr("x",2119).attr("y",78).attr("width",69).attr("height",18).attr("fill","#ff9800");
svg.append("text").text(d3.format(",.2f")(athPrice)).attr("x",2128).attr("y",y(athPrice)+1).attr("dominant-baseline","middle").attr("font-family","'DejaVu Sans',sans-serif").attr("font-size",12.2).attr("fill","#000");
svg.append("text").text("ATH").attr("x",2074).attr("y",76).attr("font-family",uiFont).attr("font-size",20).attr("fill","#10abc9");
svg.append("rect").attr("x",2060).attr("y",lp-9).attr("width",54).attr("height",18).attr("fill","#000");
svg.append("text").text("XAUUSD").attr("x",2087).attr("y",lp+0.5).attr("text-anchor","middle").attr("dominant-baseline","middle").attr("font-family",uiFont).attr("font-size",12).attr("fill","#fff");
svg.append("rect").attr("x",2119).attr("y",lp-9).attr("width",69).attr("height",18).attr("fill","#000");
svg.append("text").text(d3.format(",.2f")(lastPrice)).attr("x",2128).attr("y",lp+0.5).attr("dominant-baseline","middle").attr("font-family","'DejaVu Sans',sans-serif").attr("font-size",12.2).attr("fill","#fff");

// header
const h1=svg.append("text").attr("x",6).attr("y",13).attr("dominant-baseline","middle").attr("font-family",uiFont).attr("font-size",12.33).attr("fill","#c8cad0");
h1.append("tspan").text("GoldMindsFX").attr("font-weight","bold").attr("fill","#d6d8dd");
h1.append("tspan").text(" published on TradingView.com, May 04, 2025 09:58:04 EST");
const h2=svg.append("text").attr("x",6).attr("y",30).attr("dominant-baseline","middle").attr("font-family",uiFont).attr("font-size",12.15).attr("fill","#c8cad0");
[["FOREXCOM:XAUUSD, 60","b"],[" 3,240.39 ",""],["▲","g"],[" +1.46 (+0.05%) ",""],["O:","b"],["3,233.57 ","g"],["H:","b"],["3,241.79 ","g"],["L:","b"],["3,232.73 ","g"],["C:","b"],["3,240.40","g"]].forEach(([t,k])=>{
 const s=h2.append("tspan").text(t);
 if(k==="b")s.attr("font-weight","bold").attr("fill","#d6d8dd");
 if(k==="g")s.attr("fill","#1f9a8c");
});
svg.append("text").text("Gold Spot / U.S. Dollar · 1h · FOREXCOM").attr("x",15).attr("y",61).attr("dominant-baseline","middle").attr("font-family",uiFont).attr("font-size",12.9).attr("fill","#a6a8b0");

// footer logo
const logo=svg.append("g").attr("fill","#d3d5da");
logo.append("path").attr("d","M6,1237.5 H17.5 V1250 H11.5 V1243 H6 Z M23,1237.5 H29 L24,1250 H18 Z");
logo.append("circle").attr("cx",21).attr("cy",1240.5).attr("r",2.6);
svg.append("text").text("TradingView").attr("x",33).attr("y",1244).attr("dominant-baseline","middle").attr("font-family","Inter,'Noto Sans',sans-serif").attr("font-weight",600).attr("font-size",16).attr("textLength",92).attr("lengthAdjust","spacingAndGlyphs").attr("fill","#d3d5da");
</script></body></html>
